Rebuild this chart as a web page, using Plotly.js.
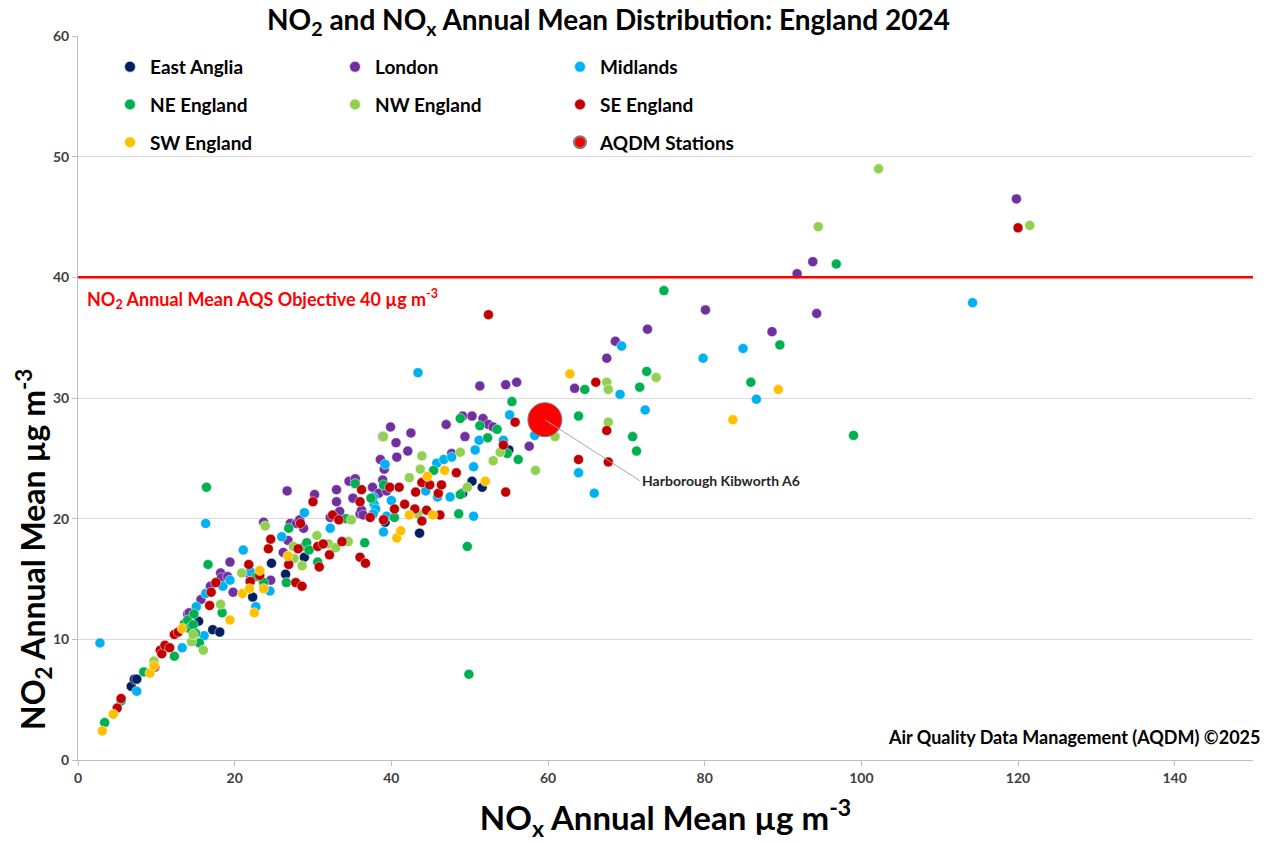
<!DOCTYPE html>
<html><head><meta charset="utf-8">
<script src="https://cdn.plot.ly/plotly-3.0.1.min.js"></script>
<style>body{margin:0;background:#fff}#chart{width:1273px;height:842px}</style>
</head><body><div id="chart"></div>
<script>
// ---- data (NOx annual mean x, NO2 annual mean y, µg m-3) ----
const eastAngliaX = [6.8,7.2,7.5,15.4,17.2,18.1,22.3,24.7,26.5,28.9,39.2,43.6,49.1,50.3,51.6,55.0];
const eastAngliaY = [6.1,6.7,6.7,11.5,10.8,10.6,13.5,16.3,15.4,16.8,19.7,18.8,22.1,23.1,22.6,25.7];

const londonX = [14.0,14.2,15.7,16.9,18.2,18.3,19.1,19.4,19.8,22.0,23.7,24.6,26.2,26.7,26.8,27.1,27.9,28.3,28.8,30.2,32.2,33.0,33.0,33.4,34.6,35.4,35.1,36.0,36.2,36.4,37.6,38.4,38.6,38.9,38.9,39.1,39.4,39.9,40.6,40.7,42.1,42.5,47.0,47.7,49.1,49.4,50.3,51.7,52.4,53.0,51.3,54.6,56.0,57.6,63.4,67.5,68.6,72.7,80.1,88.6,91.8,93.8,94.3,119.8];
const londonY = [12.1,12.2,13.3,14.4,15.5,15.1,15.2,16.4,13.9,15.2,19.7,14.9,17.2,22.3,18.2,19.6,19.6,19.9,19.2,22.0,20.1,22.4,21.4,20.6,23.1,23.3,21.7,20.4,20.7,20.3,22.6,22.1,24.9,23.2,26.8,24.1,22.3,27.6,26.3,25.1,25.6,27.1,27.8,25.4,28.5,26.8,28.5,28.3,27.8,27.6,31.0,31.1,31.3,26.0,30.8,33.3,34.7,35.7,37.3,35.5,40.3,41.3,37.0,46.5];

const midlandsX = [2.8,7.5,13.3,15.1,16.1,16.3,16.3,18.5,19.4,21.1,21.9,22.0,22.7,24.5,26.0,28.9,32.2,37.7,37.8,38.0,37.7,39.0,39.2,39.4,40.0,43.4,44.4,45.8,45.9,46.7,47.5,47.7,50.5,50.5,50.7,51.2,54.3,55.1,58.3,63.9,65.9,69.4,69.2,72.4,79.8,84.9,86.6,114.2];
const midlandsY = [9.7,5.7,9.3,12.7,10.3,13.8,19.6,14.4,14.9,17.4,14.8,15.6,12.7,14.0,18.5,20.5,19.2,21.8,21.2,20.8,20.4,18.9,24.5,20.2,21.5,32.1,22.3,24.6,21.8,24.9,21.8,25.1,24.3,20.2,25.7,26.5,26.5,28.6,26.9,23.8,22.1,34.3,30.3,29.0,33.3,34.1,29.9,37.9];

const neEnglandX = [3.4,5.5,8.4,12.3,13.6,14.0,14.2,14.7,14.8,15.0,15.5,16.4,16.6,18.4,22.8,23.7,26.6,26.9,28.9,29.2,29.5,30.6,34.2,35.4,36.6,37.4,39.0,40.4,45.4,48.6,48.8,48.8,49.7,49.9,51.3,52.3,53.5,54.8,55.4,56.2,63.9,64.7,70.8,71.3,71.7,72.6,74.8,85.9,89.6,96.8,99.0];
const neEnglandY = [3.1,4.9,7.3,8.6,11.3,11.6,10.9,11.2,12.1,10.5,9.7,22.6,16.2,12.2,15.2,14.7,14.7,19.2,17.7,18.0,17.4,16.4,20.0,22.9,18.0,21.7,22.8,20.1,24.0,20.4,28.3,22.0,17.7,7.1,27.7,26.7,27.4,25.4,29.7,24.9,28.5,30.7,26.8,25.6,30.9,32.2,38.9,31.3,34.4,41.1,26.9];

const nwEnglandX = [9.7,14.5,14.7,16.0,18.2,20.9,23.9,27.5,27.6,28.6,30.5,32.0,32.9,34.5,34.9,39.0,42.3,43.4,43.7,43.9,48.8,49.7,53.0,53.9,58.4,60.9,67.5,67.7,67.7,73.8,94.5,102.2,121.5];
const nwEnglandY = [8.2,9.8,10.4,9.1,12.9,15.5,19.4,17.7,16.7,16.1,18.6,17.9,17.6,18.1,19.9,26.8,23.4,20.4,24.1,25.2,25.5,22.6,24.8,25.5,24.0,26.8,31.3,30.7,28.0,31.7,44.2,49.0,44.3];

const seEnglandX = [5.0,5.5,9.8,10.5,10.7,11.1,11.7,12.3,12.8,16.8,17.0,17.6,21.8,22.0,23.2,24.3,24.6,26.9,27.8,28.1,28.4,28.6,30.0,30.6,30.8,31.3,32.1,32.5,33.3,33.7,36.0,36.0,36.2,36.7,37.3,39.0,39.8,40.4,41.0,41.7,43.0,43.1,43.9,43.9,44.5,44.9,46.0,46.2,46.4,48.3,52.4,54.3,54.6,55.8,63.9,66.1,67.5,67.7,120.0];
const seEnglandY = [4.3,5.1,7.7,9.1,8.8,9.5,9.3,10.4,10.6,12.8,13.9,14.7,16.2,14.8,15.3,17.5,18.3,16.2,14.7,17.5,19.6,14.4,21.4,17.7,16.0,17.9,17.0,20.3,19.9,18.1,21.4,16.8,22.4,16.3,20.1,19.9,22.6,20.8,22.6,21.2,20.8,22.2,23.0,19.8,20.7,22.8,22.1,20.3,22.8,23.8,36.9,26.1,22.2,28.0,24.9,31.3,27.3,24.7,44.1];

const swEnglandX = [3.1,4.5,9.2,9.7,13.3,19.4,21.0,21.9,22.5,23.2,23.7,26.8,40.7,41.2,42.3,44.6,45.3,46.8,52.0,62.8,83.6,89.4];
const swEnglandY = [2.4,3.8,7.2,7.8,10.9,11.6,13.8,14.2,12.2,15.7,14.2,16.9,18.4,19.0,20.3,23.5,20.3,24.0,23.1,32.0,28.2,30.7];

const aqdmX = [59.6];
const aqdmY = [28.2];
const aqdmNames = ["Harborough Kibworth A6"];

const objectiveNO2 = 40;
const xTickVals = [0,20,40,60,80,100,120,140];
const yTickVals = [0,10,20,30,40,50,60];

// ---- styling ----
const FONT = "Lato, 'Open Sans', sans-serif";
function region(name, xs, ys, color, legend, group) {
  return {type:'scatter', mode:'markers', name:name, x:xs, y:ys,
    marker:{color:color, size:10, line:{width:0.6, color:'rgba(255,255,255,0.8)'}},
    legend:legend, legendgroup:group, hoverinfo:'x+y+name'};
}
const traces = [
  region('East Anglia', eastAngliaX, eastAngliaY, '#002060', 'legend', 'a'),
  region('London', londonX, londonY, '#7030A0', 'legend2', 'b'),
  region('Midlands', midlandsX, midlandsY, '#00B0F0', 'legend3', 'c'),
  region('NE England', neEnglandX, neEnglandY, '#00B050', 'legend', 'd'),
  region('NW England', nwEnglandX, nwEnglandY, '#92D050', 'legend2', 'e'),
  region('SE England', seEnglandX, seEnglandY, '#C00000', 'legend3', 'f'),
  region('SW England', swEnglandX, swEnglandY, '#FFC000', 'legend', 'g'),
  {type:'scatter', mode:'markers', name:'AQDM Stations', x:aqdmX, y:aqdmY, text:aqdmNames,
   marker:{color:'#FF0000', size:34, line:{width:1, color:'#7f7f7f'}},
   legend:'legend3', legendgroup:'h'}
];

function legendAt(px) {
  return {x:(px-78)/1175, y:(760-48)/724, xanchor:'left', yanchor:'top', orientation:'v',
    bgcolor:'rgba(0,0,0,0)', tracegroupgap:10, itemsizing:'constant',
    font:{family:FONT, size:19, color:'#000', weight:'bold'}};
}

const layout = {
  width:1273, height:842,
  margin:{l:78, r:20, t:36, b:82},
  paper_bgcolor:'#fff', plot_bgcolor:'#fff',
  title:{text:'NO<sub>2</sub> and NO<sub>x</sub> Annual Mean Distribution: England 2024',
    x:0.478, xanchor:'center', y:0.976, yanchor:'middle',
    font:{family:FONT, size:28, color:'#000', weight:'bold'}},
  xaxis:{range:[0,150], tickvals:xTickVals, showgrid:false, zeroline:false,
    showline:true, linecolor:'#BFBFBF', linewidth:1, ticks:'outside', ticklen:5, tickcolor:'#BFBFBF',
    tickfont:{family:FONT, size:14, color:'#404040', weight:'bold'},
    title:{text:'NO<sub>x</sub> Annual Mean µg m<sup>-3</sup>', standoff:26,
      font:{family:FONT, size:33, color:'#000', weight:'bold'}}},
  yaxis:{range:[0,60], tickvals:yTickVals, showgrid:true, gridcolor:'#D9D9D9', gridwidth:1, zeroline:false,
    showline:true, linecolor:'#BFBFBF', linewidth:1, ticks:'outside', ticklen:5, tickcolor:'#BFBFBF',
    tickfont:{family:FONT, size:14, color:'#404040', weight:'bold'}},
  legend:legendAt(110), legend2:legendAt(335), legend3:legendAt(560),
  showlegend:true,
  shapes:[{type:'line', xref:'paper', x0:0, x1:1, yref:'y', y0:objectiveNO2, y1:objectiveNO2,
    line:{color:'#FF0000', width:2.5}, layer:'above'}],
  annotations:[
    {xref:'paper', x:(33-78)/1175, yref:'paper', y:(760-550)/724, textangle:-90,
     text:'NO<sub>2</sub> Annual Mean µg m<sup>-3</sup>', showarrow:false, xanchor:'center', yanchor:'middle',
     font:{family:FONT, size:32, color:'#000', weight:'bold'}},
    {xref:'paper', x:0.006, yref:'y', y:objectiveNO2, yanchor:'top', xanchor:'left', yshift:-7,
     text:'NO<sub>2</sub> Annual Mean AQS Objective 40 µg m<sup>-3</sup>', showarrow:false,
     font:{family:FONT, size:18, color:'#FF0000', weight:'bold'}},
    {x:aqdmX[0], y:aqdmY[0], xref:'x', yref:'y', text:aqdmNames[0], showarrow:true, arrowhead:0,
     arrowwidth:1, arrowcolor:'#A6A6A6', ax:95, ay:61, xanchor:'left', yanchor:'middle',
     font:{family:FONT, size:14, color:'#262626', weight:'bold'}},
    {xref:'paper', x:(1262-78)/1175, yref:'paper', y:(760-737)/724, xanchor:'right', yanchor:'middle',
     text:'Air Quality Data Management (AQDM) ©2025', showarrow:false,
     font:{family:FONT, size:18, color:'#000', weight:'bold'}}
  ]
};

Plotly.newPlot('chart', traces, layout, {displayModeBar:false, staticPlot:true});
</script></body></html>
